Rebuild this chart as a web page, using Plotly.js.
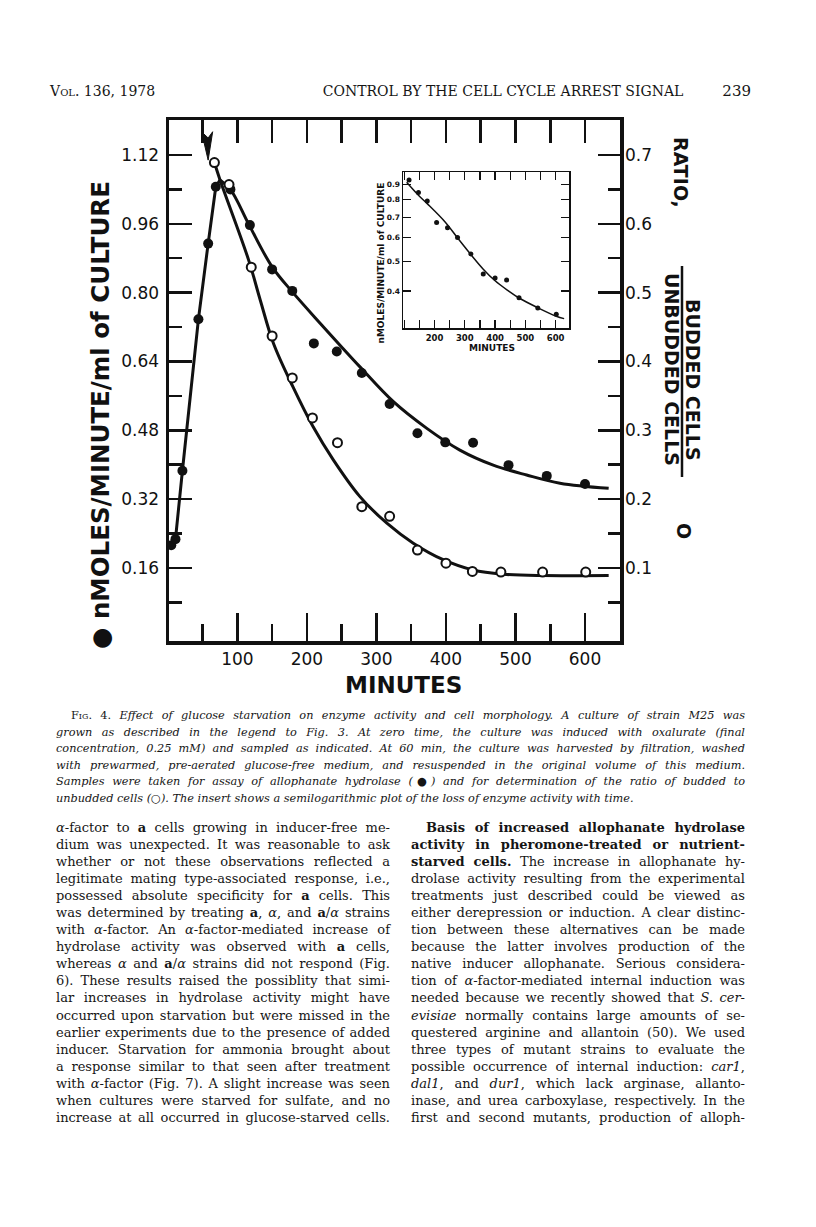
<!DOCTYPE html>
<html>
<head>
<meta charset="utf-8">
<script src="https://cdn.plot.ly/plotly-3.0.1.min.js"></script>
<style>
  body { margin: 0; background: #fff; }
  #page { position: relative; width: 816px; height: 1227px; overflow: hidden; background: #fff; }
  #graphDiv { position: absolute; left: 0; top: 0; width: 816px; height: 1227px; }
  .txt { position: absolute; font-family: "DejaVu Serif", serif; color: #151515; z-index: 2; }
  .sc { font-variant: small-caps; }
  .hdr { top: 83px; font-size: 14px; line-height: 17px; white-space: nowrap; }
  .col { width: 334px; font-size: 13px; line-height: 17.06px; top: 819px; }
  .col div { text-align: justify; text-align-last: justify; height: 17.06px; }
  .cap { left: 56px; top: 708px; width: 689px; font-size: 11.3px; line-height: 16.5px; font-style: italic; }
  .cap div { text-align: justify; text-align-last: justify; height: 16.5px; }
  .cap div.last { text-align-last: left; }
</style>
</head>
<body>
<div id="page">
  <div id="graphDiv"></div>

  <div class="txt hdr" style="left:50px;">V<span class="sc">ol</span>. 136, 1978</div>
  <div class="txt hdr" style="left:303px; width:400px; text-align:center;">CONTROL BY THE CELL CYCLE ARREST SIGNAL</div>
  <div class="txt hdr" style="left:700px; width:51px; text-align:right; font-size:15px;">239</div>

  <div class="txt cap">
    <div style="padding-left:15px;"><span style="font-style:normal;">F<span class="sc">ig</span>. 4.</span> Effect of glucose starvation on enzyme activity and cell morphology. A culture of strain M25 was</div>
    <div>grown as described in the legend to Fig. 3. At zero time, the culture was induced with oxalurate (final</div>
    <div>concentration, 0.25 mM) and sampled as indicated. At 60 min, the culture was harvested by filtration, washed</div>
    <div>with prewarmed, pre-aerated glucose-free medium, and resuspended in the original volume of this medium.</div>
    <div>Samples were taken for assay of allophanate hydrolase (<span style="font-style:normal;">●</span>) and for determination of the ratio of budded to</div>
    <div class="last">unbudded cells (<span style="font-style:normal;">○</span>). The insert shows a semilogarithmic plot of the loss of enzyme activity with time.</div>
  </div>

  <div class="txt col" style="left:56px;">
    <div><i>α</i>-factor to <b>a</b> cells growing in inducer-free me-</div>
    <div>dium was unexpected. It was reasonable to ask</div>
    <div>whether or not these observations reflected a</div>
    <div>legitimate mating type-associated response, i.e.,</div>
    <div>possessed absolute specificity for <b>a</b> cells. This</div>
    <div>was determined by treating <b>a</b>, <i>α</i>, and <b>a</b>/<i>α</i> strains</div>
    <div>with <i>α</i>-factor. An <i>α</i>-factor-mediated increase of</div>
    <div>hydrolase activity was observed with <b>a</b> cells,</div>
    <div>whereas <i>α</i> and <b>a</b>/<i>α</i> strains did not respond (Fig.</div>
    <div>6). These results raised the possiblity that simi-</div>
    <div>lar increases in hydrolase activity might have</div>
    <div>occurred upon starvation but were missed in the</div>
    <div>earlier experiments due to the presence of added</div>
    <div>inducer. Starvation for ammonia brought about</div>
    <div>a response similar to that seen after treatment</div>
    <div>with <i>α</i>-factor (Fig. 7). A slight increase was seen</div>
    <div>when cultures were starved for sulfate, and no</div>
    <div>increase at all occurred in glucose-starved cells.</div>
  </div>

  <div class="txt col" style="left:411px;">
    <div style="padding-left:15px;"><b>Basis of increased allophanate hydrolase</b></div>
    <div><b>activity in pheromone-treated or nutrient-</b></div>
    <div><b>starved cells.</b> The increase in allophanate hy-</div>
    <div>drolase activity resulting from the experimental</div>
    <div>treatments just described could be viewed as</div>
    <div>either derepression or induction. A clear distinc-</div>
    <div>tion between these alternatives can be made</div>
    <div>because the latter involves production of the</div>
    <div>native inducer allophanate. Serious considera-</div>
    <div>tion of <i>α</i>-factor-mediated internal induction was</div>
    <div>needed because we recently showed that <i>S. cer-</i></div>
    <div><i>evisiae</i> normally contains large amounts of se-</div>
    <div>questered arginine and allantoin (50). We used</div>
    <div>three types of mutant strains to evaluate the</div>
    <div>possible occurrence of internal induction: <i>car1</i>,</div>
    <div><i>dal1</i>, and <i>dur1</i>, which lack arginase, allanto-</div>
    <div>inase, and urea carboxylase, respectively. In the</div>
    <div>first and second mutants, production of alloph-</div>
  </div>
</div>

<script>
// allophanate hydrolase activity (filled circles, left axis)
var activityMin = [5, 11, 21, 44, 58, 69, 90, 118, 150, 179, 210, 243, 279, 319, 359, 399, 439, 490, 545, 600];
var activity = [0.213, 0.227, 0.386, 0.738, 0.914, 1.046, 1.040, 0.957, 0.854, 0.804, 0.682, 0.663, 0.613, 0.541, 0.473, 0.452, 0.451, 0.399, 0.374, 0.355];

// budded / unbudded ratio (open circles, right axis)
var ratioMin = [67, 88, 120, 150, 179, 208, 244, 279, 319, 359, 400, 438, 479, 539, 601];
var ratio = [0.689, 0.657, 0.537, 0.437, 0.376, 0.318, 0.282, 0.189, 0.175, 0.126, 0.107, 0.095, 0.094, 0.094, 0.094];

// hand drawn curves
var peakMin = 75, peakActivity = 1.062;
var activityCurveMin = [75, 90, 117, 150, 180, 219, 276, 324, 372, 420, 468, 516, 564, 634];
var activityCurve = [1.062, 1.040, 0.957, 0.860, 0.800, 0.729, 0.628, 0.547, 0.485, 0.434, 0.399, 0.376, 0.357, 0.345];
var ratioCurveMin = [67, 75, 116, 133, 152, 180, 209, 238, 276, 315, 353, 396, 439, 482, 540, 634];
var ratioCurve = [0.689, 0.664, 0.548, 0.489, 0.426, 0.363, 0.305, 0.257, 0.204, 0.165, 0.136, 0.112, 0.097, 0.091, 0.089, 0.089];

// insert: semilog plot of the decay
var insetMin = [116, 147, 176, 207, 243, 276, 320, 361, 400, 438, 479, 541, 602];
var insetActivity = [0.930, 0.845, 0.793, 0.673, 0.647, 0.600, 0.530, 0.455, 0.441, 0.435, 0.380, 0.351, 0.335];
var insetCurveMin = [108, 147, 176, 235, 277, 321, 361, 400, 444, 479, 541, 602, 628];
var insetCurve = [0.914, 0.828, 0.777, 0.676, 0.597, 0.526, 0.472, 0.432, 0.400, 0.379, 0.352, 0.330, 0.324];

// ticks
var minuteTicks = [100, 200, 300, 400, 500, 600];
var topTicks = [50, 100, 150, 200, 250, 300, 350, 400, 450, 500, 550, 600];
var leftTicks = [0.16, 0.32, 0.48, 0.64, 0.80, 0.96, 1.12];
var leftLabels = ['0.16', '0.32', '0.48', '0.64', '0.80', '0.96', '1.12'];
var rightTicks = [0.1, 0.2, 0.3, 0.4, 0.5, 0.6, 0.7];
var rightLabels = ['0.1', '0.2', '0.3', '0.4', '0.5', '0.6', '0.7'];
var insetXTicks = [200, 300, 400, 500, 600];
var insetYTicks = [0.4, 0.5, 0.6, 0.7, 0.8, 0.9];
var insetYLabels = ['0.4', '0.5', '0.6', '0.7', '0.8', '0.9'];
var harvestMin = 58;

var W = 816, H = 1227;
var ratioScale = 1.6;   // right axis = left axis / 1.6
var yMin = -0.0098, yMax = 1.2013;
var font = 'DejaVu Sans';

function px(x) { return x / W; }
function py(y) { return (H - y) / H; }

var traces = [
  { x: activityMin.slice(0, 6).concat([peakMin]), y: activity.slice(0, 6).concat([peakActivity]),
    mode: 'lines', line: {color: '#111', width: 3}, hoverinfo: 'skip' },
  { x: activityCurveMin, y: activityCurve, mode: 'lines',
    line: {color: '#111', width: 3, shape: 'spline', smoothing: 1}, hoverinfo: 'skip' },
  { x: activityMin, y: activity, mode: 'markers',
    marker: {color: '#111', size: 10} },
  { x: ratioCurveMin, y: ratioCurve, xaxis: 'x2', yaxis: 'y2', mode: 'lines',
    line: {color: '#111', width: 3, shape: 'spline', smoothing: 1}, hoverinfo: 'skip' },
  { x: ratioMin, y: ratio, xaxis: 'x2', yaxis: 'y2', mode: 'markers',
    marker: {color: '#fff', size: 9, line: {color: '#111', width: 2}} },
  { x: insetCurveMin, y: insetCurve, xaxis: 'x3', yaxis: 'y3', mode: 'lines',
    line: {color: '#111', width: 1.5, shape: 'spline', smoothing: 1}, hoverinfo: 'skip' },
  { x: insetMin, y: insetActivity, xaxis: 'x3', yaxis: 'y3', mode: 'markers',
    marker: {color: '#111', size: 5} }
];

var layout = {
  width: W, height: H,
  margin: {l: 0, r: 0, t: 0, b: 0},
  paper_bgcolor: '#fff',
  plot_bgcolor: 'rgba(0,0,0,0)',
  showlegend: false,
  xaxis: {
    domain: [px(169), px(620)], range: [1.7, 650.3],
    showline: true, linewidth: 3.5, linecolor: '#111', mirror: true,
    ticks: 'inside', tickvals: minuteTicks, ticklen: 28, tickwidth: 2.5, tickcolor: '#111',
    minor: {tick0: 0, dtick: 50, ticks: 'inside', ticklen: 17, tickwidth: 2.5, tickcolor: '#111'},
    tickfont: {family: font, size: 17, color: '#111'}, ticklabelstandoff: 0,
    showgrid: false, zeroline: false
  },
  yaxis: {
    domain: [py(641), py(120)], range: [yMin, yMax],
    showline: true, linewidth: 3.5, linecolor: '#111', mirror: true,
    ticks: 'inside', tickvals: leftTicks, ticktext: leftLabels, ticklen: 23, tickwidth: 2.5, tickcolor: '#111',
    minor: {tick0: 0.08, dtick: 0.16, ticks: 'inside', ticklen: 13, tickwidth: 2.5, tickcolor: '#111'},
    tickfont: {family: font, size: 17, color: '#111'}, ticklabelstandoff: 3,
    showgrid: false, zeroline: false
  },
  xaxis2: {
    overlaying: 'x', side: 'top', anchor: 'y2', range: [1.7, 650.3],
    ticks: 'inside', tickvals: topTicks, ticklen: 23, tickwidth: 2.5, tickcolor: '#111',
    showticklabels: false, showline: false, showgrid: false, zeroline: false
  },
  yaxis2: {
    overlaying: 'y', side: 'right', anchor: 'x2', range: [yMin / ratioScale, yMax / ratioScale],
    ticks: 'inside', tickvals: rightTicks, ticktext: rightLabels, ticklen: 22, tickwidth: 2.5, tickcolor: '#111',
    minor: {tick0: 0.05, dtick: 0.1, ticks: 'inside', ticklen: 12, tickwidth: 2.5, tickcolor: '#111'},
    tickfont: {family: font, size: 17, color: '#111'}, ticklabelstandoff: 4,
    showline: false, showgrid: false, zeroline: false
  },
  xaxis3: {
    domain: [px(403), px(569)], anchor: 'y3', range: [96, 644],
    showline: true, linewidth: 1.5, linecolor: '#111', mirror: 'allticks',
    ticks: 'inside', tickvals: insetXTicks, ticklen: 8, tickwidth: 1.2, tickcolor: '#111',
    minor: {dtick: 50, tick0: 0, ticks: 'inside', ticklen: 8, tickwidth: 1.2, tickcolor: '#111'},
    tickfont: {family: font, size: 8.5, color: '#111', weight: 'bold'}, ticklabelstandoff: 1,
    showgrid: false, zeroline: false
  },
  yaxis3: {
    domain: [py(328.3), py(172.3)], anchor: 'x3', type: 'log', range: [Math.log10(0.301), Math.log10(0.986)],
    showline: true, linewidth: 1.5, linecolor: '#111', mirror: 'allticks',
    ticks: 'inside', tickvals: insetYTicks, ticktext: insetYLabels, ticklen: 8, tickwidth: 1.2, tickcolor: '#111',
    tickfont: {family: font, size: 7.5, color: '#111', weight: 'bold'}, ticklabelstandoff: 0,
    showgrid: false, zeroline: false
  },
  annotations: [
    { text: '● nMOLES/MINUTE/ml of CULTURE', xref: 'paper', yref: 'paper', x: px(101), y: py(415),
      xanchor: 'center', yanchor: 'middle', textangle: -90, showarrow: false,
      font: {family: font, size: 24.5, color: '#111', weight: 'bold'} },
    { text: 'MINUTES', xref: 'paper', yref: 'paper', x: px(403), y: py(685),
      xanchor: 'center', yanchor: 'middle', showarrow: false,
      font: {family: font, size: 23, color: '#111', weight: 'bold'} },
    { text: 'RATIO,', xref: 'paper', yref: 'paper', x: px(681), y: py(172),
      xanchor: 'center', yanchor: 'middle', textangle: 90, showarrow: false,
      font: {family: font, size: 19, color: '#111', weight: 'bold'} },
    { text: 'BUDDED CELLS', xref: 'paper', yref: 'paper', x: px(693), y: py(380),
      xanchor: 'center', yanchor: 'middle', textangle: 90, showarrow: false,
      font: {family: font, size: 19, color: '#111', weight: 'bold'} },
    { text: 'UNBUDDED CELLS', xref: 'paper', yref: 'paper', x: px(672), y: py(369),
      xanchor: 'center', yanchor: 'middle', textangle: 90, showarrow: false,
      font: {family: font, size: 19, color: '#111', weight: 'bold'} },
    { text: 'O', xref: 'paper', yref: 'paper', x: px(684), y: py(531),
      xanchor: 'center', yanchor: 'middle', textangle: 90, showarrow: false,
      font: {family: font, size: 19, color: '#111', weight: 'bold'} },
    { text: 'MINUTES', xref: 'paper', yref: 'paper', x: px(492), y: py(347.5),
      xanchor: 'center', yanchor: 'middle', showarrow: false,
      font: {family: font, size: 9, color: '#111', weight: 'bold'} },
    { text: 'nMOLES/MINUTE/ml of CULTURE', xref: 'paper', yref: 'paper', x: px(380.5), y: py(263),
      xanchor: 'center', yanchor: 'middle', textangle: -90, showarrow: false,
      font: {family: font, size: 9, color: '#111', weight: 'bold'} }
  ],
  shapes: [
    // fraction bar of the right axis title
    { type: 'line', xref: 'paper', yref: 'paper', x0: px(682), x1: px(682), y0: py(266), y1: py(477),
      line: {color: '#111', width: 2.5} },
    // arrow marking the shift to glucose-free medium
    { type: 'path', xref: 'x', yref: 'y',
      path: 'M ' + (harvestMin - 9.5) + ' 1.174 L ' + harvestMin + ' 1.1595 L ' + (harvestMin + 6.5) +
            ' 1.174 L ' + harvestMin + ' 1.108 Z',
      fillcolor: '#111', line: {color: '#111', width: 1} }
  ]
};

Plotly.newPlot('graphDiv', traces, layout, {displayModeBar: false, staticPlot: true});
</script>
</body>
</html>
